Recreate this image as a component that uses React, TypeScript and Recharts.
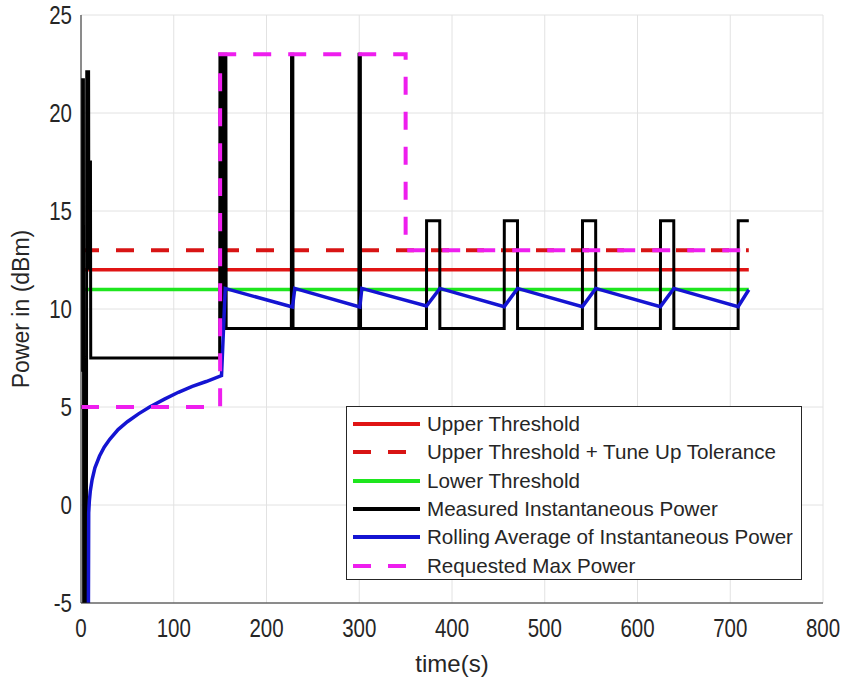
import React from 'react';
import { ComposedChart, Line, XAxis, YAxis, CartesianGrid, Legend } from 'recharts';

const xTicks = [0, 100, 200, 300, 400, 500, 600, 700, 800];
const yTicks = [-5, 0, 5, 10, 15, 20, 25];

const upperThreshold = [
  { t: 0, v: 12 },
  { t: 720, v: 12 },
];
const upperTolerance = [
  { t: 0, v: 13 },
  { t: 720, v: 13 },
];
const lowerThreshold = [
  { t: 0, v: 11 },
  { t: 720, v: 11 },
];
const requestedMax = [
  { t: 0, v: 5 },
  { t: 150, v: 5 },
  { t: 150, v: 23 },
  { t: 350, v: 23 },
  { t: 350, v: 13 },
  { t: 720, v: 13 },
];
const measuredPower = [
  { t: 0, v: 6.8 }, { t: 0.4, v: 8.4 }, { t: 0.7, v: 21.7 }, { t: 2.6, v: 21.7 }, { t: 2.9, v: -8 },
  { t: 5.8, v: -8 }, { t: 6.2, v: 22.1 }, { t: 8.2, v: 22.1 }, { t: 8.5, v: 12 }, { t: 9.0, v: 17.5 },
  { t: 10.2, v: 17.5 }, { t: 10.5, v: 7.5 },
  { t: 149.5, v: 7.5 }, { t: 149.8, v: 23 }, { t: 150.8, v: 23 }, { t: 151.1, v: 9 }, { t: 151.6, v: 23 },
  { t: 152.6, v: 23 }, { t: 152.9, v: 9 }, { t: 153.4, v: 23 }, { t: 154.4, v: 23 }, { t: 154.7, v: 9 },
  { t: 155.2, v: 23 }, { t: 156.2, v: 23 }, { t: 156.5, v: 9 },
  { t: 226.8, v: 9 }, { t: 227, v: 23 }, { t: 228.4, v: 23 }, { t: 228.6, v: 9 },
  { t: 299.6, v: 9 }, { t: 299.8, v: 23 }, { t: 301.2, v: 23 }, { t: 301.4, v: 9 },
  { t: 372.5, v: 9 }, { t: 372.6, v: 14.5 }, { t: 386.8, v: 14.5 }, { t: 386.9, v: 9 },
  { t: 456.3, v: 9 }, { t: 456.4, v: 14.5 }, { t: 470.6, v: 14.5 }, { t: 470.7, v: 9 },
  { t: 540.6, v: 9 }, { t: 540.7, v: 14.5 }, { t: 554.9, v: 14.5 }, { t: 555, v: 9 },
  { t: 624.7, v: 9 }, { t: 624.8, v: 14.5 }, { t: 639.1, v: 14.5 }, { t: 639.2, v: 9 },
  { t: 708.5, v: 9 }, { t: 708.6, v: 14.5 }, { t: 720, v: 14.5 },
];
const rollingAverage = [
  { t: 7.8, v: -8 }, { t: 8.3, v: -0.4 }, { t: 9, v: 0.2 }, { t: 10, v: 0.7 }, { t: 12, v: 1.3 },
  { t: 15, v: 1.9 }, { t: 20, v: 2.5 }, { t: 25, v: 2.95 }, { t: 31, v: 3.35 }, { t: 40, v: 3.85 },
  { t: 50, v: 4.25 }, { t: 62, v: 4.65 }, { t: 74, v: 5.0 }, { t: 90, v: 5.4 }, { t: 105, v: 5.75 },
  { t: 120, v: 6.05 }, { t: 135, v: 6.3 }, { t: 151.5, v: 6.6 }, { t: 155.5, v: 11.05 },
  { t: 228, v: 10.1 }, { t: 230.5, v: 11.05 },
  { t: 300.6, v: 10.1 }, { t: 302.8, v: 11.05 },
  { t: 372.5, v: 10.15 }, { t: 386.9, v: 11.05 },
  { t: 456.3, v: 10.12 }, { t: 470.7, v: 11.05 },
  { t: 540.6, v: 10.12 }, { t: 555, v: 11.05 },
  { t: 624.7, v: 10.12 }, { t: 639.2, v: 11.05 },
  { t: 708.5, v: 10.12 }, { t: 720, v: 10.98 },
];

const legendItems = [
  { name: 'Upper Threshold', color: '#e01414', dash: '' },
  { name: 'Upper Threshold + Tune Up Tolerance', color: '#d81414', dash: '18 17' },
  { name: 'Lower Threshold', color: '#1ee61e', dash: '' },
  { name: 'Measured Instantaneous Power', color: '#000000', dash: '' },
  { name: 'Rolling Average of Instantaneous Power', color: '#1414d2', dash: '' },
  { name: 'Requested Max Power', color: '#ee1eee', dash: '18 17' },
];

const FONT = '"Liberation Sans", Arial, Helvetica, sans-serif';
const TEXT = '#262626';

const XTick = (props: any) => {
  const { x, y, payload } = props;
  return (
    <g transform={`translate(${x},${y})`}>
      <text transform="scale(0.82,1)" textAnchor="middle" dy="0.71em" fontSize={25} fontFamily={FONT} fill={TEXT}>
        {payload.value}
      </text>
    </g>
  );
};

const YTick = (props: any) => {
  const { x, y, payload } = props;
  return (
    <g transform={`translate(${x},${y})`}>
      <text transform="scale(0.82,1)" textAnchor="end" dy="0.355em" fontSize={25} fontFamily={FONT} fill={TEXT}>
        {payload.value}
      </text>
    </g>
  );
};

const renderLegend = () => (
  <div
    style={{
      width: 456,
      height: 174,
      boxSizing: 'border-box',
      border: '1px solid #262626',
      background: '#ffffff',
      paddingTop: 3,
      fontFamily: FONT,
    }}
  >
    {legendItems.map((it) => (
      <div key={it.name} style={{ height: 28.3, display: 'flex', alignItems: 'center' }}>
        <svg width={80} height={10} style={{ flex: 'none' }}>
          <line x1={6} x2={73} y1={5} y2={5} stroke={it.color} strokeWidth={4} strokeDasharray={it.dash || undefined} />
        </svg>
        <span style={{ fontSize: 20.6, color: TEXT, whiteSpace: 'nowrap' }}>{it.name}</span>
      </div>
    ))}
  </div>
);

export default function App() {
  return (
    <div style={{ position: 'absolute', left: 0, top: 0, background: '#ffffff' }}>
      <ComposedChart width={848} height={679} margin={{ top: 15, right: 25, bottom: 0, left: 0 }}>
        <CartesianGrid stroke="#e2e2e2" strokeWidth={1} />
        <XAxis
          dataKey="t"
          type="number"
          domain={[0, 800]}
          ticks={xTicks}
          allowDataOverflow
          height={76}
          tickLine={false}
          tickMargin={10}
          axisLine={{ stroke: TEXT }}
          tick={<XTick />}
          label={{ value: 'time(s)', position: 'insideBottom', offset: 7, fill: TEXT, fontSize: 24, fontFamily: FONT }}
        />
        <XAxis
          xAxisId="top"
          orientation="top"
          type="number"
          domain={[0, 800]}
          height={0}
          tick={false}
          tickLine={false}
          axisLine={{ stroke: TEXT }}
        />
        <YAxis
          type="number"
          domain={[-5, 25]}
          ticks={yTicks}
          allowDataOverflow
          width={81}
          tickLine={false}
          tickMargin={3}
          axisLine={{ stroke: TEXT }}
          tick={<YTick />}
          label={{
            value: 'Power in (dBm)',
            angle: -90,
            position: 'insideLeft',
            offset: 21,
            fill: TEXT,
            fontSize: 23,
            fontFamily: FONT,
            style: { textAnchor: 'middle' },
          }}
        />
        <YAxis
          yAxisId="right"
          orientation="right"
          type="number"
          domain={[-5, 25]}
          width={0}
          tick={false}
          tickLine={false}
          axisLine={{ stroke: TEXT }}
        />
        <Legend
          layout="vertical"
          align="center"
          verticalAlign="middle"
          content={renderLegend}
          wrapperStyle={{ left: 346, top: 406, width: 456, height: 174 }}
        />
        <Line data={upperThreshold} dataKey="v" name="Upper Threshold" stroke="#e01414" strokeWidth={3.5} dot={false} isAnimationActive={false} type="linear" />
        <Line data={upperTolerance} dataKey="v" name="Upper Threshold + Tune Up Tolerance" stroke="#d81414" strokeWidth={4} strokeDasharray="18 17" dot={false} isAnimationActive={false} type="linear" />
        <Line data={lowerThreshold} dataKey="v" name="Lower Threshold" stroke="#1ee61e" strokeWidth={3.5} dot={false} isAnimationActive={false} type="linear" />
        <Line data={measuredPower} dataKey="v" name="Measured Instantaneous Power" stroke="#000000" strokeWidth={3} dot={false} isAnimationActive={false} type="linear" />
        <Line data={rollingAverage} dataKey="v" name="Rolling Average of Instantaneous Power" stroke="#1414d2" strokeWidth={3.5} dot={false} isAnimationActive={false} type="linear" />
        <Line data={requestedMax} dataKey="v" name="Requested Max Power" stroke="#ee1eee" strokeWidth={4} strokeDasharray="18 17" dot={false} isAnimationActive={false} type="linear" />
      </ComposedChart>
    </div>
  );
}
